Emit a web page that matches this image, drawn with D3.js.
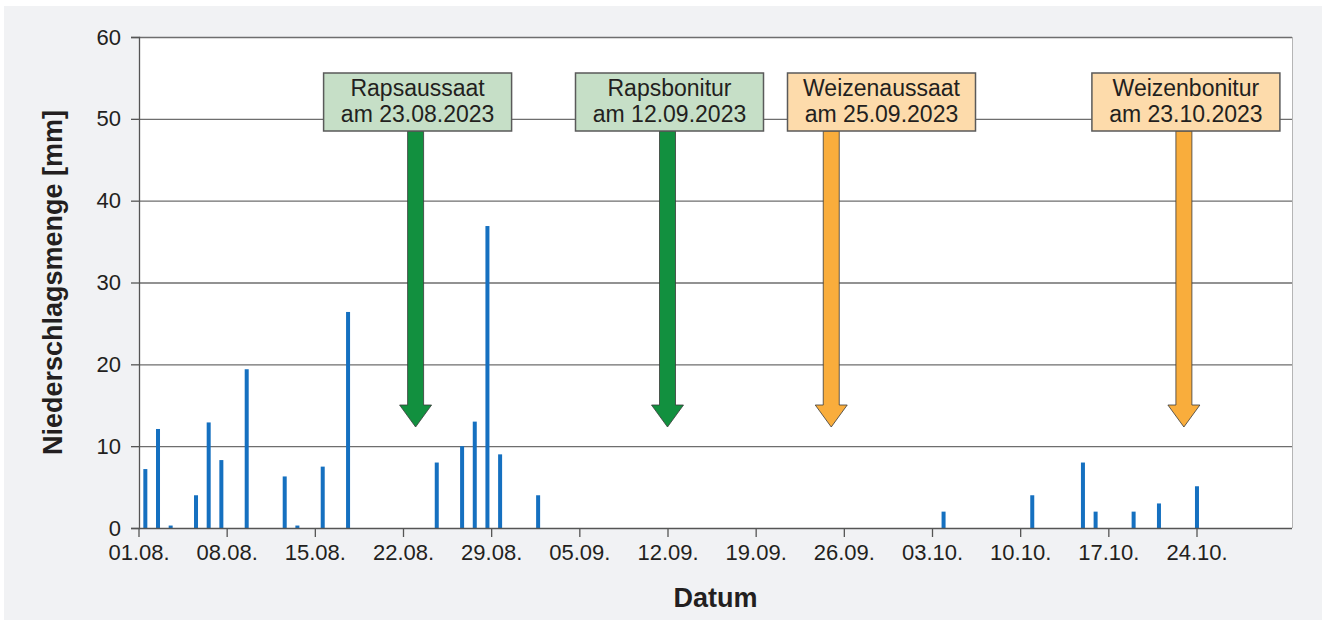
<!DOCTYPE html>
<html>
<head>
<meta charset="utf-8">
<script src="https://cdn.jsdelivr.net/npm/d3@7"></script>
<style>
  html, body { margin: 0; padding: 0; background: #ffffff; }
  svg { display: block; font-family: "Liberation Sans", Arial, Helvetica, sans-serif; }
</style>
</head>
<body>
<svg id="chart" width="1326" height="625"></svg>
<script>
// ---------- data ----------
const rainDates = ["2023-08-01","2023-08-02","2023-08-03","2023-08-05","2023-08-06","2023-08-07",
  "2023-08-09","2023-08-12","2023-08-13","2023-08-15","2023-08-17","2023-08-24","2023-08-26",
  "2023-08-27","2023-08-28","2023-08-29","2023-09-01","2023-10-03","2023-10-10","2023-10-14",
  "2023-10-15","2023-10-18","2023-10-20","2023-10-23"];
const rainValues = [7.2, 12.1, 0.3, 4.0, 12.9, 8.3, 19.4, 6.3, 0.3, 7.5, 26.4, 8.0, 10.0,
  13.0, 36.9, 9.0, 4.0, 2.0, 4.0, 8.0, 2.0, 2.0, 3.0, 5.1];
const yTicks = [0, 10, 20, 30, 40, 50, 60];
const xTickDates = ["2023-08-01","2023-08-08","2023-08-15","2023-08-22","2023-08-29","2023-09-05",
  "2023-09-12","2023-09-19","2023-09-26","2023-10-03","2023-10-10","2023-10-17","2023-10-24"];
const eventTitles = ["Rapsaussaat", "Rapsbonitur", "Weizenaussaat", "Weizenbonitur"];
const eventDates = ["2023-08-23", "2023-09-12", "2023-09-25", "2023-10-23"];
const eventCrop = ["raps", "raps", "weizen", "weizen"];
const yTitle = "Niederschlagsmenge [mm]";
const xTitle = "Datum";

// ---------- setup ----------
const parse = d3.timeParse("%Y-%m-%d");
const fmtTick = d3.timeFormat("%d.%m.");
const fmtEvent = d3.timeFormat("%d.%m.%Y");
const startDay = parse("2023-08-01");
const lastDay = parse("2023-10-30");

const plot = { left: 139, right: 1292, top: 37, bottom: 528 };
const svg = d3.select("#chart");

svg.append("rect").attr("x", 4).attr("y", 6).attr("width", 1318).attr("height", 614).attr("fill", "#f1f2f4");
svg.append("rect").attr("x", plot.left).attr("y", plot.top)
  .attr("width", plot.right - plot.left).attr("height", plot.bottom - plot.top)
  .attr("fill", "#ffffff");

const y = d3.scaleLinear().domain([0, 60]).range([plot.bottom, plot.top]);
// axis ticks (time scale)
const xt = d3.scaleTime().domain([parse("2023-08-01"), parse("2023-10-24")]).range([138.5, 1196.5]);
// bars (one band per day)
const days = d3.timeDay.range(startDay, d3.timeDay.offset(lastDay, 1));
const xb = d3.scaleBand().domain(days.map(d => +d)).range([plot.left, plot.right]).padding(0);

// gridlines
svg.append("g").selectAll("line").data(yTicks.filter(v => v > 0)).join("line")
  .attr("x1", plot.left).attr("x2", plot.right)
  .attr("y1", d => y(d) + 0.5).attr("y2", d => y(d) + 0.5)
  .attr("stroke", "#6e6e6e").attr("stroke-width", 1.3);
// right border
svg.append("line").attr("x1", plot.right + 0.5).attr("x2", plot.right + 0.5)
  .attr("y1", plot.top).attr("y2", plot.bottom).attr("stroke", "#b5b5b5").attr("stroke-width", 1);

// y axis
const yAxis = svg.append("g").attr("transform", `translate(${plot.left},0)`)
  .call(d3.axisLeft(y).tickValues(yTicks).tickSize(8).tickPadding(10).tickFormat(d3.format("d")));
yAxis.select(".domain").attr("stroke", "#555").attr("stroke-width", 1.3);
yAxis.selectAll(".tick line").attr("stroke", "#555").attr("stroke-width", 1.3);
yAxis.selectAll(".tick text").attr("font-size", 22).attr("fill", "#231f20")
  .attr("font-family", "Liberation Sans, Arial, sans-serif");

// bars
const rain = rainDates.map((d, i) => ({ date: parse(d), value: rainValues[i] }));
const barW = 4;
svg.append("g").selectAll("rect").data(rain).join("rect")
  .attr("x", d => xb(+d.date) + xb.bandwidth() / 2 - barW / 2)
  .attr("width", barW)
  .attr("y", d => y(d.value))
  .attr("height", d => y(0) - y(d.value))
  .attr("fill", "#1570c0");

// x axis
const xAxis = svg.append("g").attr("transform", `translate(0,${plot.bottom})`)
  .call(d3.axisBottom(xt).tickValues(xTickDates.map(parse)).tickSize(9).tickPadding(7).tickFormat(fmtTick));
xAxis.select(".domain").remove();
svg.append("line").attr("x1", plot.left).attr("x2", plot.right)
  .attr("y1", plot.bottom + 0.5).attr("y2", plot.bottom + 0.5)
  .attr("stroke", "#555").attr("stroke-width", 1.3);
xAxis.selectAll(".tick line").attr("stroke", "#555").attr("stroke-width", 1.3);
xAxis.selectAll(".tick text").attr("font-size", 22).attr("fill", "#231f20")
  .attr("font-family", "Liberation Sans, Arial, sans-serif");

// axis titles
svg.append("text").attr("x", (plot.left + plot.right) / 2).attr("y", 607)
  .attr("text-anchor", "middle").attr("font-size", 27).attr("font-weight", "bold")
  .attr("fill", "#231f20").text(xTitle);
svg.append("text").attr("transform", `translate(62,${(plot.top + plot.bottom) / 2}) rotate(-90)`)
  .attr("text-anchor", "middle").attr("font-size", 27).attr("font-weight", "bold")
  .attr("fill", "#231f20").text(yTitle);

// annotations
const colors = {
  raps: { box: "#c6dfc7", arrow: "#12903f" },
  weizen: { box: "#fddbab", arrow: "#f9ad3c" }
};
const boxW = 188, boxTop = 73, boxH = 58, gap = 24;
const shaftW = 16, headW = 32, headH = 22, tipY = 427;
let prevRight = -Infinity;
const events = eventTitles.map((t, i) => {
  const date = parse(eventDates[i]);
  const ax = xt(date);
  let left = ax - boxW / 2 + 2;
  if (left < prevRight + gap) left = prevRight + gap;
  prevRight = left + boxW;
  return { title: t, date, ax, left, crop: eventCrop[i] };
});

const ev = svg.append("g").selectAll("g").data(events).join("g");
ev.append("path")
  .attr("d", d => {
    const x = d.ax, top = boxTop + boxH, hy = tipY - headH;
    return `M${x - shaftW / 2},${top} L${x + shaftW / 2},${top} L${x + shaftW / 2},${hy} ` +
      `L${x + headW / 2},${hy} L${x},${tipY} L${x - headW / 2},${hy} L${x - shaftW / 2},${hy} Z`;
  })
  .attr("fill", d => colors[d.crop].arrow).attr("stroke", "#3a3a3a").attr("stroke-width", 0.8);
ev.append("rect")
  .attr("x", d => d.left).attr("y", boxTop).attr("width", boxW).attr("height", boxH)
  .attr("fill", d => colors[d.crop].box).attr("stroke", "#5a5a5a").attr("stroke-width", 1.5);
ev.append("text")
  .attr("x", d => d.left + boxW / 2).attr("y", 96)
  .attr("text-anchor", "middle").attr("font-size", 23).attr("fill", "#231f20")
  .text(d => d.title);
ev.append("text")
  .attr("x", d => d.left + boxW / 2).attr("y", 122)
  .attr("text-anchor", "middle").attr("font-size", 23).attr("fill", "#231f20")
  .text(d => "am " + fmtEvent(d.date));
</script>
</body>
</html>
